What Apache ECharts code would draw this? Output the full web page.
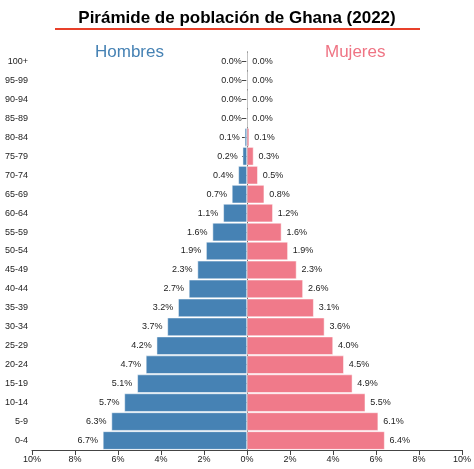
<!DOCTYPE html>
<html><head><meta charset="utf-8">
<script src="https://cdn.jsdelivr.net/npm/echarts@6/dist/echarts.min.js"></script>
<style>html,body{margin:0;padding:0;background:#fff}#c{width:474px;height:469px}</style>
</head><body><div id="c"></div>
<script>
const categories = ['0-4','5-9','10-14','15-19','20-24','25-29','30-34','35-39','40-44','45-49','50-54','55-59','60-64','65-69','70-74','75-79','80-84','85-89','90-94','95-99','100+'];
const hombres = [6.7,6.3,5.7,5.1,4.7,4.2,3.7,3.2,2.7,2.3,1.9,1.6,1.1,0.7,0.4,0.2,0.1,0.0,0.0,0.0,0.0];
const mujeres = [6.4,6.1,5.5,4.9,4.5,4.0,3.6,3.1,2.6,2.3,1.9,1.6,1.2,0.8,0.5,0.3,0.1,0.0,0.0,0.0,0.0];
const xTicks = [-10,-8,-6,-4,-2,0,2,4,6,8,10];
const chart = echarts.init(document.getElementById('c'));
const lab = {show:true,fontSize:9,color:'#222',fontFamily:'Liberation Sans',formatter:p=>Math.abs(p.value).toFixed(1)+'%'};
chart.setOption({
  animation:false,
  title:{text:'Pirámide de población de Ghana (2022)',left:'center',top:5,textStyle:{fontSize:17,fontWeight:'bold',color:'#000',fontFamily:'Liberation Sans'}},
  graphic:[
    {type:'line',shape:{x1:55,y1:29,x2:420,y2:29},style:{stroke:'#e8402a',lineWidth:2}},
    {type:'text',left:95,top:44,style:{text:'Hombres',fontSize:17,fill:'#4682b4',fontFamily:'Liberation Sans'}},
    {type:'text',left:325,top:44,style:{text:'Mujeres',fontSize:17,fill:'#ef7484',fontFamily:'Liberation Sans'}}
  ],
  grid:{left:32,right:12,top:52,bottom:19},
  xAxis:{type:'value',min:xTicks[0],max:xTicks[xTicks.length-1],interval:2,
    axisLine:{show:true,lineStyle:{color:'#444'}},axisTick:{show:true,lineStyle:{color:'#444'}},splitLine:{show:false},
    axisLabel:{fontSize:9,color:'#222',formatter:v=>Math.abs(v)+'%',margin:5}},
  yAxis:{type:'category',data:categories,axisLine:{show:true,lineStyle:{color:'#444'}},
    axisTick:{show:true,alignWithLabel:true,lineStyle:{color:'#444'}},
    axisLabel:{fontSize:9,color:'#222',margin:4}},
  series:[
    {name:'Hombres',type:'bar',stack:'a',data:hombres.map(v=>-v),barWidth:'96%',
     itemStyle:{color:'#4682b4',borderColor:'#fff',borderWidth:0.5},label:Object.assign({position:'left'},lab)},
    {name:'Mujeres',type:'bar',stack:'a',data:mujeres,barWidth:'96%',
     itemStyle:{color:'#f07a8a',borderColor:'#fff',borderWidth:0.5},label:Object.assign({position:'right'},lab)}
  ]
});
</script></body></html>
